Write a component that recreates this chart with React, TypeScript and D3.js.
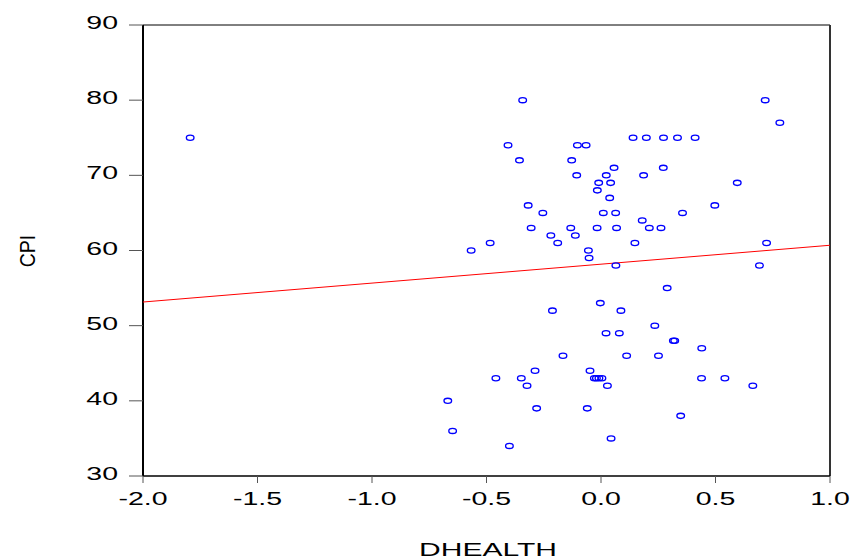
import React from "react";
import * as d3 from "d3";

const dhealth: number[] = [
  -1.794, -0.342, 0.717, 0.781,
  0.14, 0.198, 0.273, 0.334, 0.411,
  -0.406, -0.103, -0.065,
  -0.356, -0.128,
  0.057, 0.272,
  -0.106, 0.023, 0.186,
  -0.01, 0.042, 0.595,
  -0.016,
  0.038,
  -0.318, 0.497,
  -0.254, 0.01, 0.064, 0.356,
  0.18,
  -0.305, -0.132, -0.017, 0.068, 0.211, 0.262,
  -0.219, -0.112,
  -0.484, -0.189, 0.148, 0.723,
  -0.567, -0.055,
  -0.052,
  0.065, 0.692,
  0.289,
  -0.003,
  -0.212, 0.087,
  0.235,
  0.022, 0.08,
  0.316, 0.322,
  0.44,
  -0.166, 0.112, 0.251,
  -0.288, -0.048,
  -0.459, -0.348, -0.029, -0.02, -0.009, 0.004, 0.439, 0.541,
  -0.323, 0.028, 0.663,
  -0.669,
  -0.281, -0.06,
  0.348,
  -0.648,
  0.044,
  -0.4,
];

const cpi: number[] = [
  75, 80, 80, 77,
  75, 75, 75, 75, 75,
  74, 74, 74,
  72, 72,
  71, 71,
  70, 70, 70,
  69, 69, 69,
  68,
  67,
  66, 66,
  65, 65, 65, 65,
  64,
  63, 63, 63, 63, 63, 63,
  62, 62,
  61, 61, 61, 61,
  60, 60,
  59,
  58, 58,
  55,
  53,
  52, 52,
  50,
  49, 49,
  48, 48,
  47,
  46, 46, 46,
  44, 44,
  43, 43, 43, 43, 43, 43, 43, 43,
  42, 42, 42,
  40,
  39, 39,
  38,
  36,
  35,
  34,
];

const xTicks: number[] = [-2.0, -1.5, -1.0, -0.5, 0.0, 0.5, 1.0];
const yTicks: number[] = [30, 40, 50, 60, 70, 80, 90];
const fitIntercept = 58.18;
const fitSlope = 2.517;

const W = 851;
const H = 559;
const left = 143;
const right = 830;
const top = 25;
const bottom = 476;
const SX = 1.5;
const FONT = "'Liberation Sans', Arial, sans-serif";

export default function App() {
  const x = d3.scaleLinear().domain([-2, 1]).range([left, right]);
  const y = d3.scaleLinear().domain([30, 90]).range([bottom, top]);
  const lineGen = d3
    .line<number>()
    .x((d) => x(d))
    .y((d) => y(fitIntercept + fitSlope * d));

  return (
    <svg
      width={W}
      height={H}
      style={{ position: "absolute", left: 0, top: 0, background: "#fff" }}
    >
      <rect x={0} y={0} width={W} height={H} fill="#fff" />
      {/* frame */}
      <line x1={left} y1={top} x2={right} y2={top} stroke="#000" strokeWidth={1} />
      <line x1={right} y1={top} x2={right} y2={bottom} stroke="#333" strokeWidth={2} />
      <line x1={left} y1={top} x2={left} y2={bottom} stroke="#000" strokeWidth={2} />
      <line x1={left} y1={bottom} x2={right} y2={bottom} stroke="#000" strokeWidth={1.5} />

      {/* y ticks */}
      {yTicks.map((t) => (
        <g key={"y" + t}>
          <line x1={left - 14} x2={left} y1={y(t)} y2={y(t)} stroke="#555" strokeWidth={1} />
          <text
            transform={`translate(${left - 25},${y(t) + 4}) scale(${SX},1)`}
            textAnchor="end"
            fontFamily={FONT}
            fontSize={19}
            fill="#000"
          >
            {t}
          </text>
        </g>
      ))}

      {/* x ticks */}
      {xTicks.map((t) => (
        <g key={"x" + t}>
          <line x1={x(t)} x2={x(t)} y1={bottom} y2={bottom + 7} stroke="#555" strokeWidth={1} />
          <text
            transform={`translate(${x(t)},${bottom + 29}) scale(${SX},1)`}
            textAnchor="middle"
            fontFamily={FONT}
            fontSize={19}
            fill="#000"
          >
            {t.toFixed(1)}
          </text>
        </g>
      ))}

      {/* fit line */}
      <path d={lineGen([-2, 1]) || ""} fill="none" stroke="#ff0000" strokeWidth={1} />

      {/* points */}
      {dhealth.map((d, i) => (
        <ellipse
          key={"p" + i}
          cx={x(d)}
          cy={y(cpi[i])}
          rx={3.8}
          ry={2.6}
          fill="none"
          stroke="#0000ff"
          strokeWidth={1.35}
        />
      ))}

      {/* axis titles */}
      <text
        transform={`translate(${488},${556}) scale(1.58,1)`}
        textAnchor="middle"
        fontFamily={FONT}
        fontSize={19}
        fill="#000"
      >
        DHEALTH
      </text>
      <text
        transform={`translate(${35},${251}) rotate(-90) scale(1,1.1)`}
        textAnchor="middle"
        fontFamily={FONT}
        fontSize={19.5}
        fill="#000"
      >
        CPI
      </text>
    </svg>
  );
}
